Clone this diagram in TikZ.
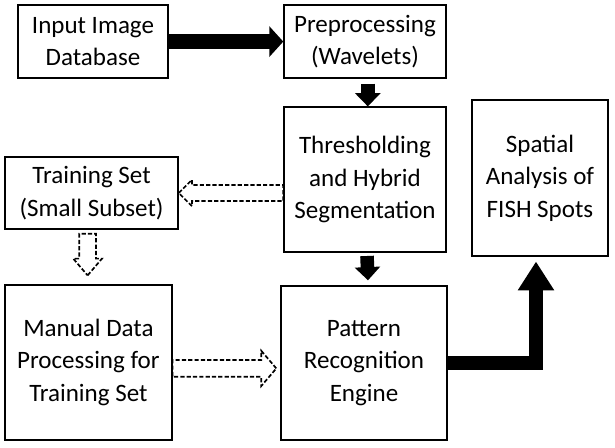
\documentclass[tikz,border=0pt]{standalone}
\usepackage{fontspec}
\setmainfont{Carlito}
\usetikzlibrary{arrows.meta,calc}

\begin{document}
\begin{tikzpicture}[
        box/.style={draw, line width=1pt, align=center, inner sep=2pt,
            font=\fontsize{17.8}{23}\selectfont},
        fat/.style={line width=0.375cm, -{Triangle[length=0.35cm,width=0.75cm]}},
        fatdown/.style={line width=0.34cm, -{Triangle[length=0.33cm,width=0.62cm]}},
        fatup/.style={line width=0.36cm, line join=miter, -{Triangle[length=0.72cm,width=0.86cm]}},
        hollow/.style={draw, line width=1.2pt, dash pattern=on 3pt off 1.5pt}
    ]
        \useasboundingbox (0,0) rectangle (15.375,-11.2);

        \node[box, minimum width=3.75cm, minimum height=1.825cm] (input) at (2.325,-1.04) {Input Image\\Database};
        \node[box, minimum width=4.05cm, minimum height=1.825cm] (prep) at (9.125,-1.04) {Preprocessing\\(Wavelets)};
        \node[box, minimum width=4.05cm, minimum height=3.625cm] (thresh) at (9.125,-4.49) {Thresholding\\and Hybrid\\Segmentation};
        \node[box, minimum width=3.4cm, minimum height=3.9cm] (spatial) at (13.5,-4.45) {Spatial\\Analysis of\\FISH Spots};
        \node[box, minimum width=4.325cm, minimum height=1.8cm] (train) at (2.29,-4.825) {Training Set\\(Small Subset)};
        \node[box, minimum width=4.175cm, minimum height=3.875cm] (manual) at (2.21,-9.06) {Manual Data\\Processing for\\Training Set};
        \node[box, minimum width=4.15cm, minimum height=3.85cm] (pattern) at (9.1,-9.07) {Pattern\\Recognition\\Engine};

        % solid block arrows
        \draw[fat] (input.east) -- (prep.west);
        \draw[fatdown] ($(prep.south)+(0.07,-0.12)$) -- (thresh.north -| {$(prep.south)+(0.07,0)$});
        \draw[fatdown] ($(thresh.south)+(0.05,-0.08)$) -- ($(pattern.north)+(0.1,0.12)$);
        \coordinate (up) at ($(spatial.south)+(-0.1,-0.12)$);
        \draw[fatup] (pattern.east) -| (up);

        % dashed hollow arrows
        \draw[hollow] (train.east) -- ++(0.33,0.33) -- ++(0,-0.13)
            -- ($(train.east -| thresh.west)+(0,0.2)$) -- ++(0,-0.4)
            -- ($(train.east)+(0.33,-0.2)$) -- ++(0,-0.13) -- cycle;

        \coordinate (d0) at ($(train.south)+(-0.1,-0.1)$);
        \coordinate (d1) at ($(d0 |- manual.north)+(0,0.22)$);
        \draw[hollow] (d1) -- ++(0.36,0.42) -- ++(-0.15,0)
            -- ($(d0)+(0.21,0)$) -- ++(-0.42,0)
            -- ($(d1)+(-0.21,0.42)$) -- ++(-0.15,0) -- cycle;

        \coordinate (r0) at ($(manual.east)+(0,-0.15)$);
        \coordinate (r1) at ($(r0 -| pattern.west)+(-0.1,0)$);
        \draw[hollow] (r1) -- ++(-0.375,0.44) -- ++(0,-0.23)
            -- ($(r0)+(0,0.21)$) -- ++(0,-0.42)
            -- ($(r1)+(-0.375,-0.21)$) -- ++(0,-0.23) -- cycle;
    \end{tikzpicture}
\end{document}
